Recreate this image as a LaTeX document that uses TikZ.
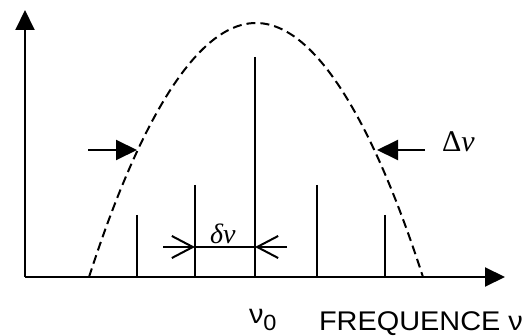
\documentclass[tikz,border=0pt]{standalone}
\usepackage{fontspec}
\setmainfont[FakeStretch=1.07]{Liberation Sans}
\newfontfamily\seriffont{Liberation Serif}
\usetikzlibrary{arrows.meta}

\begin{document}
\begin{tikzpicture}[x=1pt,y=-1pt,line width=2pt]
\tikzstyle{axis}=[-{Triangle[length=20pt,width=19pt]}]
\tikzstyle{envelope}=[dash pattern=on 9pt off 5pt]
\tikzstyle{widtharrow}=[-{Triangle[length=21pt,width=20pt]}]
\tikzstyle{spacing}=[-{Straight Barb[length=21pt,width=22pt]}]
\tikzstyle{sanslabel}=[inner sep=0pt,font=\fontsize{27}{32}\selectfont]
\tikzstyle{seriflabel}=[inner sep=0pt,font=\seriffont\fontsize{28}{32}\selectfont]

\useasboundingbox (0,0) rectangle (526,336);

% axes
\coordinate (origin) at (25,277);
\coordinate (ytip) at (25,10);
\coordinate (xtip) at (505,277);
\draw[axis] (origin) -- (ytip);
\draw[axis] (origin) -- (xtip);

% envelope
\coordinate (envleft) at (89,277);
\coordinate (envtop) at (256,23);
\coordinate (envright) at (423,277);
\draw[envelope] (envleft) parabola bend (envtop) (envright);

% modes
\coordinate (mode1) at (137,215);
\coordinate (mode2) at (195,185);
\coordinate (mode3) at (255,57);
\coordinate (mode4) at (317,185);
\coordinate (mode5) at (385,215);
\draw (mode1) -- (mode1 |- origin);
\draw (mode2) -- (mode2 |- origin);
\draw (mode3) -- (mode3 |- origin);
\draw (mode4) -- (mode4 |- origin);
\draw (mode5) -- (mode5 |- origin);

% mode spacing
\coordinate (gapleft) at (163,247);
\coordinate (gapright) at (287,247);
\coordinate (gapa) at (mode2 |- gapleft);
\coordinate (gapb) at (mode3 |- gapleft);
\draw[spacing] (gapleft) -- (gapa);
\draw (gapa) -- (gapb);
\draw[spacing] (gapright) -- (gapb);
\node[seriflabel,anchor=base west] (deltanu) at (209,243) {\textit{δν}};

% bandwidth
\coordinate (bwleft) at (88,150);
\coordinate (bwlefttip) at (137,150);
\coordinate (bwright) at (425,150);
\coordinate (bwrighttip) at (377,150);
\draw[widtharrow] (bwleft) -- (bwlefttip);
\draw[widtharrow] (bwright) -- (bwrighttip);
\node[seriflabel,font=\seriffont\fontsize{30}{34}\selectfont,anchor=base west] (bandwidth) at (441,152) {Δ\textit{ν}};

% axis labels
\node[sanslabel,anchor=base west] (nuzero) at (248,323) {ν\raisebox{-7pt}{\fontsize{22}{26}\selectfont 0}};
\node[sanslabel,anchor=base west] (frequency) at (318,330) {FREQUENCE ν};
\end{tikzpicture}
\end{document}
